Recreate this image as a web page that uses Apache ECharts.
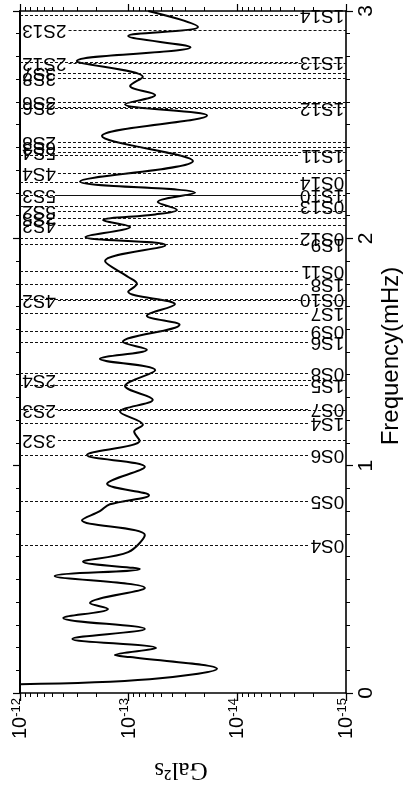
<!DOCTYPE html>
<html><head><meta charset="utf-8">
<script src="https://cdn.jsdelivr.net/npm/echarts@6/dist/echarts.min.js"></script>
<style>html,body{margin:0;padding:0;background:#fff}#c{width:408px;height:793px}</style>
</head><body><div id="c"></div>
<script>
// Spectrum: frequency (mHz) and amplitude (Gal^2 s)
const freq = [0.038,0.06,0.107,0.158,0.167,0.198,0.238,0.282,0.33,0.37,0.396,0.462,0.515,0.545,0.577,0.62,0.695,0.76,0.80,0.83,0.87,0.92,0.995,1.047,1.11,1.15,1.18,1.237,1.29,1.35,1.42,1.47,1.51,1.545,1.62,1.66,1.71,1.765,1.80,1.83,1.90,1.97,2.006,2.05,2.08,2.105,2.125,2.16,2.2,2.25,2.34,2.45,2.54,2.59,2.63,2.67,2.71,2.78,2.84,2.89,2.93,3.0];
const amp = [1.0e-12,6.4e-14,1.54e-14,9.7e-14,1.34e-13,5.6e-14,3.3e-13,7.1e-14,4.0e-13,1.55e-13,2.27e-13,7.1e-14,4.8e-13,7.9e-14,2.63e-13,1.01e-13,7.1e-14,2.69e-13,1.84e-13,1.49e-13,6.5e-14,1.58e-13,7.1e-14,2.42e-13,7.9e-14,8.9e-14,7.4e-14,1.2e-13,6.0e-14,1.08e-13,5.7e-14,1.84e-13,6.8e-14,1.13e-13,3.4e-14,6.8e-14,3.75e-14,1.01e-13,8.4e-14,1.01e-13,1.65e-13,4.6e-14,2.5e-13,9.7e-14,1.72e-13,5.7e-14,3.6e-14,5.4e-14,2.45e-14,2.8e-13,2.56e-14,1.76e-13,1.9e-14,1.08e-13,5.7e-14,9.7e-14,7.4e-14,3.0e-13,2.7e-14,1.01e-13,2.3e-14,6.6e-14];

// Normal modes labelled near the frequency axis (right)
const rightModes = ['1S14','1S13','1S12','1S11','0S14','1S10','0S13','0S12','1S9','0S11','1S8','0S10','1S7','0S9','1S6','0S8','1S5','0S7','1S4','0S6','0S5','0S4'];
const rightFreq  = [2.983,2.776,2.574,2.367,2.248,2.191,2.143,1.999,1.973,1.856,1.800,1.733,1.671,1.590,1.545,1.408,1.355,1.249,1.188,1.047,0.845,0.651];
// Normal modes labelled near the amplitude maximum (left)
const leftModes = ['2S13','2S12','3S7','3S8','3S6','2S6','2S8','6S3','5S4','4S4','5S3','5S2','3S5','4S3','4S2','2S4','2S3','3S2'];
const leftFreq  = [2.916,2.772,2.727,2.705,2.597,2.575,2.421,2.401,2.380,2.288,2.191,2.121,2.090,2.059,1.729,1.377,1.245,1.113];

const minorVals = [];
for (let e = -15; e < -12; e++) for (let k = 2; k <= 9; k++) minorVals.push(e + Math.log10(k));

const chart = echarts.init(document.getElementById('c'));
const axisCommon = {type:'value', min:-15, max:-12, inverse:true, splitLine:{show:false}};
const blk = '#000';
const FONT_FAMILY = 'Liberation Sans, Arial, sans-serif';
const MODE_SIZE = 19;
const modeFont = {fontFamily:FONT_FAMILY, fontSize:MODE_SIZE, color:blk, opacity:1};
const RIGHT_ANCHOR = -14.985, LEFT_ANCHOR = -12.02;

chart.setOption({
  backgroundColor:'#fff',
  animation:false,
  grid:{left:20, right:62, top:11, bottom:100},
  xAxis:[
    Object.assign({}, axisCommon, {position:'bottom', interval:1,
      axisLine:{show:true, lineStyle:{color:blk, width:1.6}},
      axisTick:{show:true, length:8, lineStyle:{color:blk, width:1.3}},
      axisLabel:{show:true, rotate:90, margin:5,
        formatter: v => '{b|10}{s|' + v + '}',
        rich:{b:{fontFamily:FONT_FAMILY, fontSize:20, color:blk, verticalAlign:'bottom'},
              s:{fontFamily:FONT_FAMILY, fontSize:13, color:blk, verticalAlign:'top', padding:[0,0,8,0]}}}}),
    Object.assign({}, axisCommon, {position:'bottom',
      axisLine:{show:false},
      axisTick:{show:true, length:4, customValues:minorVals, lineStyle:{color:blk, width:1}},
      axisLabel:{show:false}}),
    Object.assign({}, axisCommon, {position:'top', interval:1,
      axisLine:{show:true, lineStyle:{color:blk, width:1.6}},
      axisTick:{show:true, length:7, lineStyle:{color:blk, width:1.2}},
      axisLabel:{show:false}}),
    Object.assign({}, axisCommon, {position:'top',
      axisLine:{show:false},
      axisTick:{show:true, length:4, customValues:minorVals, lineStyle:{color:blk, width:1}},
      axisLabel:{show:false}})
  ],
  yAxis:[
    {type:'value', position:'right', min:0, max:3, interval:1, splitLine:{show:false},
      axisLine:{show:true, lineStyle:{color:blk, width:1.6}},
      axisTick:{show:true, length:7, lineStyle:{color:blk, width:1.2}},
      minorTick:{show:true, splitNumber:10, length:4, lineStyle:{color:blk, width:1}},
      axisLabel:{show:true, rotate:90, margin:10, fontFamily:FONT_FAMILY, fontSize:21, color:blk}},
    {type:'value', position:'left', min:0, max:3, interval:1, splitLine:{show:false},
      axisLine:{show:true, lineStyle:{color:blk, width:2}},
      axisTick:{show:true, length:7, lineStyle:{color:blk, width:1.2}},
      minorTick:{show:true, splitNumber:10, length:4, lineStyle:{color:blk, width:1}},
      axisLabel:{show:false}}
  ],
  graphic:[
    {type:'text', x:391, y:356, rotation:Math.PI/2,
      style:{text:'Frequency(mHz)', font:'24px "Liberation Sans", Arial, sans-serif', fill:blk, align:'center', verticalAlign:'middle'}},
    {type:'text', x:181, y:770, rotation:Math.PI,
      style:{text:'Gal²s', font:'25px "Liberation Serif", "Times New Roman", serif', fill:blk, align:'center', verticalAlign:'middle'}}
  ],
  series:[
    {id:'modeLines', type:'line', xAxisIndex:0, yAxisIndex:0, data:[], z:1, silent:true},
    {type:'line', xAxisIndex:0, yAxisIndex:0, z:3, clip:true,
      data: freq.map((f,i) => [Math.log10(amp[i]), f]),
      showSymbol:false, smooth:0.35,
      lineStyle:{color:blk, width:2}},
    {type:'scatter', xAxisIndex:0, yAxisIndex:0, z:5, symbolSize:0, silent:true,
      itemStyle:{opacity:1},
      data: rightModes.map((m,i) => ({name:m, value:[RIGHT_ANCHOR, rightFreq[i]]})),
      label:{show:true, formatter:'{b}', position:'inside', align:'left', verticalAlign:'middle', rotate:180, ...modeFont}},
    {type:'scatter', xAxisIndex:0, yAxisIndex:0, z:5, symbolSize:0, silent:true,
      itemStyle:{opacity:1},
      data: leftModes.map((m,i) => ({name:m, value:[LEFT_ANCHOR, leftFreq[i]]})),
      label:{show:true, formatter:'{b}', position:'inside', align:'right', verticalAlign:'middle', rotate:180, ...modeFont}}
  ]
});

// dashed mode lines run from the far axis up to the edge of each label
const ctx = document.createElement('canvas').getContext('2d');
ctx.font = MODE_SIZE + 'px ' + FONT_FAMILY;
const finder = {xAxisIndex:0, yAxisIndex:0};
const rA = chart.convertToPixel(finder, [RIGHT_ANCHOR, 0])[0];
const lA = chart.convertToPixel(finder, [LEFT_ANCHOR, 0])[0];
const segs = [];
rightModes.forEach((m,i) => {
  const px = rA - ctx.measureText(m).width - 2;
  const v = chart.convertFromPixel(finder, [px, 0])[0];
  segs.push([{coord:[-12, rightFreq[i]]}, {coord:[v, rightFreq[i]]}]);
});
leftModes.forEach((m,i) => {
  const px = lA + ctx.measureText(m).width + 2;
  const v = chart.convertFromPixel(finder, [px, 0])[0];
  segs.push([{coord:[v, leftFreq[i]]}, {coord:[-15, leftFreq[i]]}]);
});
chart.setOption({series:[{id:'modeLines',
  markLine:{silent:true, symbol:'none', animation:false, label:{show:false},
    lineStyle:{type:[3,2], color:'#111', width:1, opacity:1}, data:segs}}]});
</script></body></html>
